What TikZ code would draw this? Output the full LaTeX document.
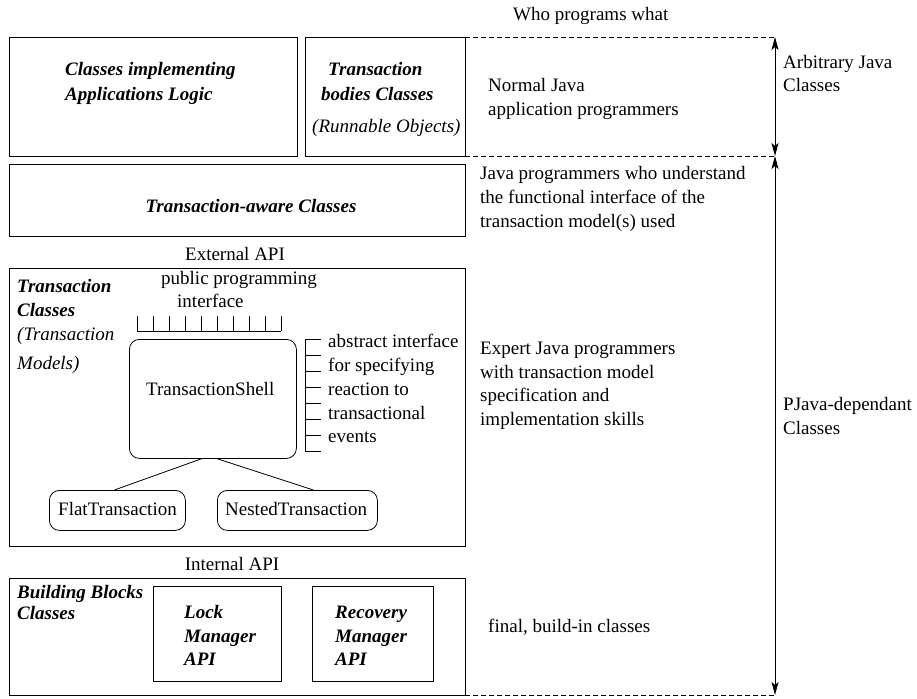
\documentclass[tikz,border=0pt]{standalone}
\usepackage{fontspec}
\setmainfont{Liberation Serif}
\usetikzlibrary{arrows.meta}
\newcommand\fsz{\fontsize{19}{23}\selectfont}
\begin{document}
\begin{tikzpicture}[x=1pt,y=-1pt,
  box/.style={draw, line width=0.8pt, anchor=north west, inner sep=0pt},
  rbox/.style={box, rounded corners=10pt},
  txt/.style={anchor=base west, inner sep=0pt, font=\fsz},
  ctxt/.style={anchor=base, inner sep=0pt, font=\fsz},
  bi/.style={font=\fsz\bfseries\itshape},
  it/.style={font=\fsz\itshape},
  dsh/.style={line width=0.7pt, dash pattern=on 4.5pt off 3.5pt},
  dbl/.style={line width=0.8pt, {Stealth[length=13pt,width=7pt,inset=3pt]}-{Stealth[length=13pt,width=7pt,inset=3pt]}},
  ln/.style={line width=0.8pt}]
\useasboundingbox (0,0) rectangle (917,698);

% boxes
\node[box, minimum width=288pt, minimum height=119pt] (applogic) at (9,37) {};
\node[box, minimum width=160pt, minimum height=119pt] (bodies) at (305,37) {};
\node[box, minimum width=456pt, minimum height=72pt] (aware) at (9,164) {};
\node[box, minimum width=456pt, minimum height=278pt] (tclasses) at (9,268) {};
\node[box, minimum width=456pt, minimum height=117pt] (blocks) at (9,578) {};
\node[box, minimum width=128pt, minimum height=95pt] (lock) at (153,586) {};
\node[box, minimum width=121pt, minimum height=95pt] (recovery) at (312,586) {};
\node[rbox, minimum width=167pt, minimum height=119pt] (shell) at (129,339) {};
\node[rbox, minimum width=136pt, minimum height=40pt] (flat) at (49,490) {};
\node[rbox, minimum width=160pt, minimum height=40pt] (nested) at (217,490) {};

% connectors
\draw[ln] ([xshift=-11.5pt]shell.south) -- ([xshift=-3pt]flat.north);
\draw[ln] ([xshift=4.5pt]shell.south) -- ([xshift=16pt]nested.north);

% combs
\draw[ln] (137,331) -- (281,331);
\foreach \x in {137,153,...,281} \draw[ln] (\x,331) -- (\x,316);
\draw[ln] (305,339) -- (305,451);
\foreach \y in {339,355,...,451} \draw[ln] (305,\y) -- (321,\y);

% dashed lines and arrows
\coordinate (d1l) at (465,37);  \coordinate (d1r) at (775,37);
\coordinate (d2l) at (465,156); \coordinate (d2r) at (775,156);
\coordinate (d3l) at (465,695); \coordinate (d3r) at (775,695);
\draw[dsh] (d1l) -- (d1r);
\draw[dsh] (d2l) -- (d2r);
\draw[dsh] (d3l) -- (d3r);
\draw[dbl] (d1r) -- (d2r);
\draw[dbl] (d2r) -- (d3r);

% texts
\node[txt] (who) at (513,21) {Who programs what};
\node[txt,bi] (a1) at (65,76) {Classes implementing};
\node[txt,bi] (a2) at (65,100) {Applications Logic};
\node[txt,bi] (b1) at (328,76) {Transaction};
\node[txt,bi] (b2) at (321,100) {bodies Classes};
\node[txt,it] (b3) at (312,132) {(Runnable Objects)};
\node[ctxt,bi] (c1) at (251,212) {Transaction-aware Classes};
\node[txt] (n1) at (488,92) {Normal Java};
\node[txt] (n2) at (488,116) {application programmers};
\node[txt] (r1) at (783,69) {Arbitrary Java};
\node[txt] (r2) at (783,92) {Classes};
\node[txt] (j1) at (480,179) {Java programmers who understand};
\node[txt] (j2) at (480,203) {the functional interface of the};
\node[txt] (j3) at (480,227) {transaction model(s) used};
\node[ctxt] (ext) at (235,260) {External API};
\node[txt,bi] (t1) at (17,292) {Transaction};
\node[txt,bi] (t2) at (17,316) {Classes};
\node[txt,it] (t3) at (17,340) {(Transaction};
\node[txt,it] (t4) at (17,369) {Models)};
\node[txt] (p1) at (161,284) {public programming};
\node[txt] (p2) at (177,307) {interface};
\node[txt] (sh) at (146,395) {TransactionShell};
\node[txt] (e1) at (328,347) {abstract interface};
\node[txt] (e2) at (328,371) {for specifying};
\node[txt] (e3) at (328,395) {reaction to};
\node[txt] (e4) at (328,419) {transactional};
\node[txt] (e5) at (328,442) {events};
\node[txt] (ft) at (58,515) {FlatTransaction};
\node[txt] (nt) at (225,515) {NestedTransaction};
\node[txt] (x1) at (480,354) {Expert Java programmers};
\node[txt] (x2) at (480,378) {with transaction model};
\node[txt] (x3) at (480,401) {specification and};
\node[txt] (x4) at (480,425) {implementation skills};
\node[txt] (q1) at (783,410) {PJava-dependant};
\node[txt] (q2) at (783,434) {Classes};
\node[ctxt] (int) at (232,570) {Internal API};
\node[txt,bi] (k1) at (17,598) {Building Blocks};
\node[txt,bi] (k2) at (17,619) {Classes};
\node[txt,bi] (l1) at (184,618) {Lock};
\node[txt,bi] (l2) at (184,642) {Manager};
\node[txt,bi] (l3) at (184,665) {API};
\node[txt,bi] (m1) at (335,618) {Recovery};
\node[txt,bi] (m2) at (335,642) {Manager};
\node[txt,bi] (m3) at (335,665) {API};
\node[txt] (fin) at (488,632) {final, build-in classes};
\end{tikzpicture}
\end{document}
